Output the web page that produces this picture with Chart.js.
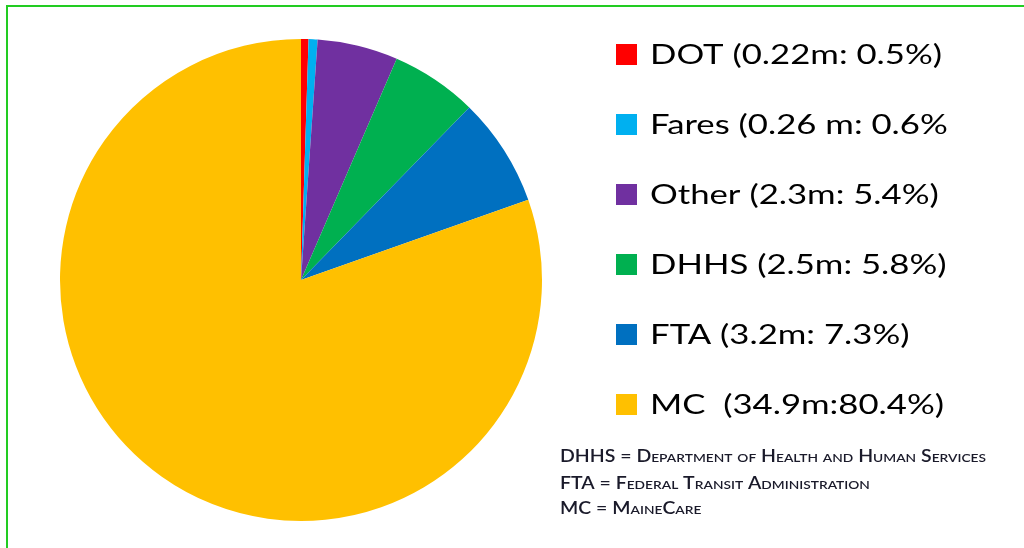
<!DOCTYPE html>
<html>
<head>
<meta charset="utf-8">
<script src="https://cdn.jsdelivr.net/npm/chart.js@4/dist/chart.umd.min.js"></script>
<style>
html,body{margin:0;padding:0;background:#fff;}
#wrap{position:relative;width:1024px;height:548px;overflow:hidden;}
#frame{position:absolute;left:6px;top:5px;right:-10px;bottom:-10px;border-top:2px solid #22cc22;border-left:2px solid #22cc22;}
canvas{position:absolute;left:0;top:0;}
</style>
</head>
<body>
<div id="wrap">
<div id="frame"></div>
<canvas id="pie" width="1024" height="548"></canvas>
</div>
<script>
// funding sources
const categories = ['DOT','Fares','Other','DHHS','FTA','MC'];
const amounts = [0.22, 0.26, 2.3, 2.5, 3.2, 34.9]; // millions
const shares = [0.5, 0.6, 5.4, 5.8, 7.3, 80.4]; // percent
const legendLabels = ['DOT (0.22m: 0.5%)','Fares (0.26 m: 0.6%','Other (2.3m: 5.4%)','DHHS (2.5m: 5.8%)','FTA (3.2m: 7.3%)','MC  (34.9m:80.4%)'];
const colors = ['#ff0000','#00b0f0','#7030a0','#00b050','#0070c0','#ffc000'];
const notes = ['DHHS = Department of Health and Human Services','FTA = Federal Transit Administration','MC = MaineCare'];

// text in the original is drawn wide, so stretch it horizontally
function drawWide(ctx, t, x, y, sx){
  ctx.save();
  ctx.translate(x, y);
  ctx.scale(sx, 1);
  ctx.fillText(t, 0, 0);
  ctx.restore();
}

const sideLegend = {
  id:'sideLegend',
  afterDraw(chart){
    const ctx = chart.ctx;
    ctx.save();
    ctx.textBaseline = 'middle';
    ctx.font = '27px Lato';
    let sx = 292 / ctx.measureText(legendLabels[0]).width;
    legendLabels.forEach((t,i)=>{
      const y = 54.5 + i*70;
      ctx.fillStyle = colors[i];
      ctx.fillRect(616, y-10.5, 21, 21);
      ctx.fillStyle = '#000';
      drawWide(ctx, t, 650, y+1, sx);
    });
    ctx.font = 'small-caps 600 17px Lato';
    ctx.fillStyle = '#1a1a2a';
    sx = 426 / ctx.measureText(notes[0]).width;
    notes.forEach((t,i)=>{
      drawWide(ctx, t, 560, [457,484,509][i], sx);
    });
    ctx.restore();
  }
};

new Chart(document.getElementById('pie').getContext('2d'), {
  type:'pie',
  data:{labels:categories, datasets:[{data:shares, backgroundColor:colors, borderWidth:0}]},
  options:{
    responsive:false, animation:false,
    layout:{padding:{left:0,right:422,top:39,bottom:27}},
    plugins:{legend:{display:false}, tooltip:{enabled:false}}
  },
  plugins:[sideLegend]
});
</script>
</body>
</html>
